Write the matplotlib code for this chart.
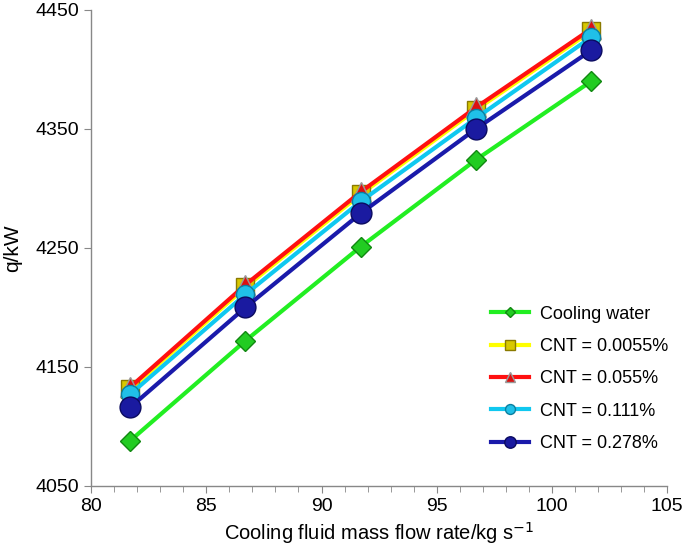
import numpy as np
import matplotlib.pyplot as plt

plt.rcParams['font.family'] = ['Liberation Sans', 'DejaVu Sans']

# data
flow = [81.7, 86.7, 91.7, 96.7, 101.7]
q_water = [4088, 4172, 4251, 4324, 4390]
q_0055 = [4131, 4217, 4295, 4366, 4432]
q_055 = [4133, 4219, 4297, 4368, 4434]
q_111 = [4127, 4211, 4289, 4359, 4427]
q_278 = [4116, 4200, 4279, 4350, 4416]

labels = ['Cooling water', 'CNT = 0.0055%', 'CNT = 0.055%', 'CNT = 0.111%', 'CNT = 0.278%']

fig = plt.figure(figsize=(6.85, 5.49), dpi=100)
ax = fig.add_axes([0.133, 0.115, 0.841, 0.867])

# line, marker, face, edge, size
styles = [
    ('#22ee22', 'D', '#22cc22', '#118811', 10),
    ('#ffff00', 's', '#d8c800', '#8a7a00', 13),
    ('#ff1010', '^', '#dd1010', '#999999', 14),
    ('#10c8f0', 'o', '#20c0e8', '#0a7fa0', 13),
    ('#1a1aaa', 'o', '#1a1aa0', '#0a0a60', 15),
]
series = [q_water, q_0055, q_055, q_111, q_278]

for i, (ys, st, lab) in enumerate(zip(series, styles, labels)):
    lc, mk, fc, ec, ms = st
    ax.plot(flow, ys, '-', color=lc, lw=3, marker=mk, markersize=ms,
            markerfacecolor=fc, markeredgecolor=ec, markeredgewidth=1,
            label=lab, zorder=2 + i)

ax.set_xlim(80, 105)
ax.set_ylim(4050, 4450)
ax.set_xticks([80, 85, 90, 95, 100, 105])
ax.set_xticks(np.arange(80, 106, 1), minor=True)
ax.set_yticks([4050, 4150, 4250, 4350, 4450])

for s in ['top', 'right']:
    ax.spines[s].set_visible(False)
for s in ['left', 'bottom']:
    ax.spines[s].set_color('#888888')
    ax.spines[s].set_linewidth(1)
ax.tick_params(which='both', color='#888888', direction='out', labelsize=14)
ax.tick_params(which='major', length=5)
ax.tick_params(which='minor', length=4)

ax.set_xlabel('Cooling fluid mass flow rate/kg s$^{-1}$', fontsize=14.5)
ax.set_ylabel('q/kW', fontsize=15, labelpad=10)

ax.legend(loc='lower right', frameon=False, fontsize=13, markerscale=0.55,
          handlelength=2.1, handletextpad=0.6, labelspacing=0.85,
          bbox_to_anchor=(1.03, 0.037))

fig.savefig('out.png', dpi=100)
